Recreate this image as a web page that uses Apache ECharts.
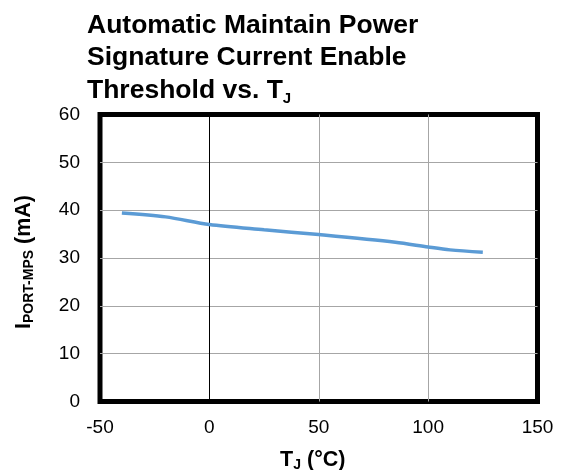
<!DOCTYPE html>
<html><head><meta charset="utf-8">
<script src="https://cdn.jsdelivr.net/npm/echarts@6/dist/echarts.min.js"></script>
<style>html,body{margin:0;padding:0;background:#fff}#c{width:563px;height:470px}</style>
</head><body><div id="c"></div>
<script>
const temps = [-40, -20, 0, 25, 50, 85, 100, 110, 125];
const current = [39.4, 38.6, 37.0, 35.9, 34.9, 33.3, 32.3, 31.7, 31.2];
const xTicks = [-50, 0, 50, 100, 150];
const yTicks = [0, 10, 20, 30, 40, 50, 60];

const font = 'Arial, "Liberation Sans", sans-serif';
const gridGray = '#a6a6a6';
const chart = echarts.init(document.getElementById('c'));
chart.setOption({
  backgroundColor: '#fff',
  animation: false,
  title: {
    left: 87, top: 9, padding: 0,
    text: '{a|Automatic Maintain Power}\n{a|Signature Current Enable}\n{a|Threshold vs. T}{s|J}',
    textStyle: {
      rich: {
        a: {fontFamily: font, fontWeight: 'bold', fontSize: 26.5, lineHeight: 32.5, color: '#000'},
        s: {fontFamily: font, fontWeight: 'bold', fontSize: 15, lineHeight: 14, verticalAlign: 'bottom', color: '#000'}
      }
    }
  },
  grid: {left: 100, right: 25.5, top: 114.5, bottom: 68.5, show: true, borderColor: '#000', borderWidth: 5,
         containLabel: false, outerBoundsMode: 'none'},
  xAxis: {
    type: 'value', min: xTicks[0], max: xTicks[xTicks.length - 1], interval: 50,
    axisLine: {show: false}, axisTick: {show: false},
    axisLabel: {color: '#000', fontFamily: font, fontSize: 19, margin: 17},
    splitLine: {show: true, lineStyle: {color: ['rgba(0,0,0,0)', '#000', gridGray, gridGray, 'rgba(0,0,0,0)'], width: 1}},
    name: '{a|T}{s|J}{a| (°C)}', nameLocation: 'middle', nameGap: 47,
    nameTextStyle: {padding: [0, 12, 0, 0], rich: {
      a: {fontFamily: font, fontWeight: 'bold', fontSize: 21.5, lineHeight: 24, color: '#000'},
      s: {fontFamily: font, fontWeight: 'bold', fontSize: 14, lineHeight: 10, verticalAlign: 'bottom', color: '#000'}
    }}
  },
  yAxis: {
    type: 'value', min: yTicks[0], max: yTicks[yTicks.length - 1], interval: 10,
    axisLine: {show: false}, axisTick: {show: false},
    axisLabel: {color: '#000', fontFamily: font, fontSize: 19, margin: 20},
    splitLine: {show: true, lineStyle: {color: ['rgba(0,0,0,0)', gridGray, gridGray, gridGray, gridGray, gridGray, 'rgba(0,0,0,0)'], width: 1}},
    name: '{a|I}{s|PORT-MPS}{a| (mA)}', nameLocation: 'middle', nameGap: 64, nameRotate: 90,
    nameTextStyle: {padding: [0, 8, 0, 0], rich: {
      a: {fontFamily: font, fontWeight: 'bold', fontSize: 21.5, lineHeight: 24, color: '#000'},
      s: {fontFamily: font, fontWeight: 'bold', fontSize: 14, lineHeight: 12, verticalAlign: 'bottom', color: '#000'}
    }}
  },
  series: [{
    type: 'line', smooth: 0.3, showSymbol: false,
    data: temps.map((t, i) => [t, current[i]]),
    lineStyle: {color: '#5b9bd5', width: 3.5}
  }]
});
</script></body></html>
